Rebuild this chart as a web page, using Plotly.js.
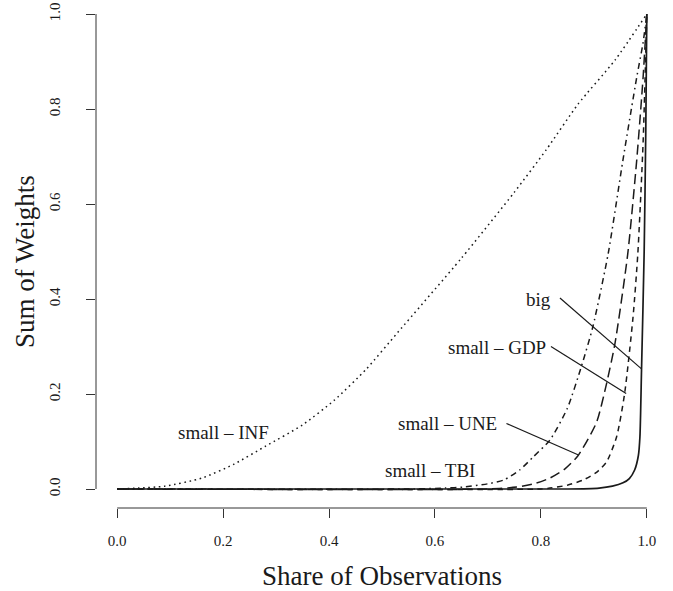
<!DOCTYPE html>
<html>
<head>
<meta charset="utf-8">
<script src="https://cdn.plot.ly/plotly-3.0.1.min.js"></script>
<style>html,body{margin:0;padding:0;background:#fff;}#chart{width:673px;height:591px;}</style>
</head>
<body>
<div id="chart"></div>
<script>
// Share of observations (x) vs cumulative sum of weights (y)
const infX = [0, 0.04, 0.09, 0.16, 0.22, 0.28, 0.35, 0.41, 0.47, 0.53, 0.65, 0.75, 0.81, 0.87, 0.94, 1.0];
const infY = [0, 0.002, 0.006, 0.023, 0.052, 0.09, 0.135, 0.187, 0.252, 0.33, 0.486, 0.625, 0.714, 0.81, 0.903, 1.0];

const tbiX = [0, 0.55, 0.62, 0.653, 0.70, 0.73, 0.76, 0.785, 0.817, 0.85, 0.877, 0.898, 0.927, 0.955, 0.981, 0.993, 1.0];
const tbiY = [0, 0, 0.002, 0.004, 0.011, 0.019, 0.04, 0.067, 0.103, 0.17, 0.26, 0.341, 0.495, 0.693, 0.867, 0.94, 1.0];

const uneX = [0, 0.70, 0.754, 0.79, 0.817, 0.845, 0.87, 0.905, 0.924, 0.94, 0.964, 0.981, 0.993, 1.0];
const uneY = [0, 0, 0.004, 0.012, 0.023, 0.042, 0.07, 0.14, 0.222, 0.307, 0.495, 0.693, 0.867, 1.0];

const gdpX = [0, 0.80, 0.817, 0.85, 0.88, 0.905, 0.924, 0.943, 0.958, 0.974, 0.983, 0.993, 1.0];
const gdpY = [0, 0, 0.002, 0.008, 0.019, 0.035, 0.057, 0.11, 0.2, 0.362, 0.495, 0.73, 1.0];

const bigX = [0, 0.85, 0.91, 0.935, 0.955, 0.967, 0.977, 0.984, 0.987, 0.99, 0.995, 0.998, 1.0];
const bigY = [0, 0, 0.002, 0.006, 0.013, 0.022, 0.04, 0.07, 0.11, 0.25, 0.5, 0.75, 1.0];

const tickVals = [0, 0.2, 0.4, 0.6, 0.8, 1.0];
const tickText = ['0.0', '0.2', '0.4', '0.6', '0.8', '1.0'];

const seriesNames = ['small – INF', 'small – TBI', 'small – UNE', 'small – GDP', 'big'];

const FONT = 'Liberation Serif, Times New Roman, serif';
const INK = '#1a1a1a';

function tr(x, y, name, dash, w) {
  return {x: x, y: y, name: name, type: 'scatter', mode: 'lines',
    line: {color: INK, width: w, dash: dash, shape: 'spline', smoothing: 0.6},
    hoverinfo: 'x+y+name'};
}

const data = [
  tr(infX, infY, seriesNames[0], '1.6px,3.6px', 1.5),
  tr(tbiX, tbiY, seriesNames[1], '1.6px,4px,6px,4px', 1.5),
  tr(uneX, uneY, seriesNames[2], '10px,5px', 1.5),
  tr(gdpX, gdpY, seriesNames[3], '5.5px,4.5px', 1.5),
  tr(bigX, bigY, seriesNames[4], 'solid', 1.7)
];

const lineStyle = {color: INK, width: 1.2};
const shapes = [
  // R-style detached axis lines spanning first to last tick
  {type: 'line', xref: 'x', yref: 'paper', x0: 0, x1: 1, y0: 0, y1: 0, line: {color: '#333', width: 1}},
  {type: 'line', xref: 'paper', yref: 'y', x0: 0, x1: 0, y0: 0, y1: 1, line: {color: '#333', width: 1}},
  // label pointers
  {type: 'line', xref: 'x', yref: 'y', x0: 0.836, y0: 0.402, x1: 0.99, y1: 0.253, line: lineStyle},
  {type: 'line', xref: 'x', yref: 'y', x0: 0.819, y0: 0.300, x1: 0.961, y1: 0.201, line: lineStyle},
  {type: 'line', xref: 'x', yref: 'y', x0: 0.735, y0: 0.138, x1: 0.870, y1: 0.072, line: lineStyle}
];

function lab(text, x, y, anchor) {
  return {text: text, x: x, y: y, xref: 'x', yref: 'y', showarrow: false,
    xanchor: anchor, yanchor: 'middle', font: {family: FONT, size: 19, color: INK}};
}
const annotations = [
  lab(seriesNames[4], 0.823, 0.400, 'right'),
  lab(seriesNames[3], 0.814, 0.298, 'right'),
  lab(seriesNames[2], 0.720, 0.138, 'right'),
  lab(seriesNames[1], 0.679, 0.040, 'right'),
  lab(seriesNames[0], 0.200, 0.118, 'center'),
  // y-axis title placed like R's mtext
  {text: 'Sum of Weights', xref: 'paper', yref: 'paper', x: -0.125, y: 0.485,
   xanchor: 'center', yanchor: 'middle', textangle: -90, showarrow: false,
   font: {family: FONT, size: 27, color: INK}}
];

const layout = {
  width: 673, height: 591,
  margin: {l: 96, r: 5, t: 0, b: 83, pad: 0},
  paper_bgcolor: '#fff', plot_bgcolor: '#fff',
  showlegend: false,
  font: {family: FONT, color: INK},
  xaxis: {
    range: [-0.04, 1.04], tickvals: tickVals, ticktext: tickText,
    ticks: 'outside', ticklen: 9, tickwidth: 1, tickcolor: '#333',
    showline: false, showgrid: false, zeroline: false,
    tickfont: {family: FONT, size: 15, color: INK},
    ticklabelstandoff: 10,
    title: {text: 'Share of Observations', font: {family: FONT, size: 27, color: INK}, standoff: 18}
  },
  yaxis: {
    range: [-0.04, 1.0295], tickvals: tickVals, ticktext: tickText,
    ticks: 'outside', ticklen: 9, tickwidth: 1, tickcolor: '#333',
    showline: false, showgrid: false, zeroline: false,
    tickangle: -90,
    tickfont: {family: FONT, size: 15, color: INK},
    ticklabelstandoff: 20
  },
  shapes: shapes,
  annotations: annotations
};

Plotly.newPlot('chart', data, layout, {displayModeBar: false, staticPlot: true});
</script>
</body>
</html>
